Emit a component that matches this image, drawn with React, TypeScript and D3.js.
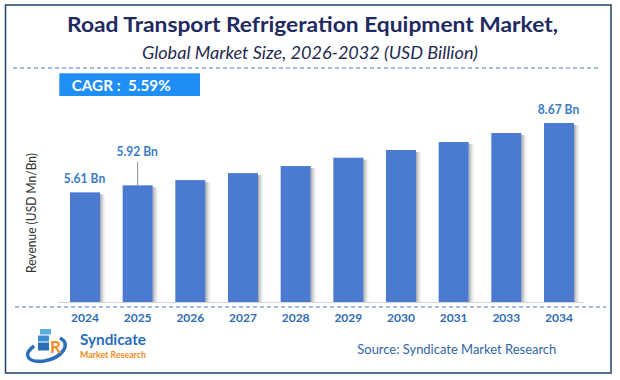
import React from "react";
import * as d3 from "d3";

const years = ["2024", "2025", "2026", "2027", "2028", "2029", "2030", "2031", "2033", "2034"];
const values = [5.61, 5.92, 6.15, 6.46, 6.77, 7.14, 7.48, 7.83, 8.23, 8.67];
const labeled = [
  { year: "2024", text: "5.61 Bn", leader: false },
  { year: "2025", text: "5.92 Bn", leader: true },
  { year: "2034", text: "8.67 Bn", leader: false },
];
const titleText = "Road Transport Refrigeration Equipment Market,";
const subtitleText = "Global Market Size, 2026-2032 (USD Billion)";
const cagrText = "CAGR :\u00a0 5.59%";
const yAxisTitle = "Revenue (USD Mn/Bn)";
const sourceText = "Source: Syndicate Market Research";

const W = 620;
const H = 380;
const FONT = "Lato, 'Open Sans', sans-serif";

export default function App() {
  const x = d3
    .scaleBand<string>()
    .domain(years)
    .range([58.4, 585.6])
    .paddingInner(0.43)
    .paddingOuter(0.22);
  const y = d3.scaleLinear().domain([0.77, 10]).range([302, 92.9]);
  const data = years.map((yr, i) => ({ yr, v: values[i] }));

  return (
    <svg
      width={W}
      height={H}
      style={{ position: "absolute", left: 0, top: 0, background: "#fff" }}
      fontFamily={FONT}
    >
      <defs>
        <linearGradient id="shadow" x1="0" x2="1" y1="0" y2="0">
          <stop offset="0" stopColor="#8a8a8a" stopOpacity="0.8" />
          <stop offset="1" stopColor="#ffffff" stopOpacity="0" />
        </linearGradient>
      </defs>
      <rect x={0} y={0} width={W} height={H} fill="#fff" />
      <rect x={5.5} y={5} width={605.5} height={368} fill="none" stroke="#2b4c74" strokeWidth={1.6} />

      {/* title */}
      <text
        x={312.5}
        y={32}
        textAnchor="middle"
        fontSize={21}
        fontWeight="bold"
        fill="#1f2a63"
        textLength={491}
        lengthAdjust="spacingAndGlyphs"
      >
        {titleText}
      </text>
      <text
        x={310}
        y={59}
        textAnchor="middle"
        fontSize={17.5}
        fontStyle="italic"
        fill="#1f2a50"
        textLength={336}
        lengthAdjust="spacingAndGlyphs"
      >
        {subtitleText}
      </text>
      <line x1={13} x2={600} y1={68} y2={68} stroke="#4a78c8" strokeWidth={1} strokeDasharray="4 3" />

      {/* CAGR box */}
      <rect x={59.3} y={73.3} width={140.7} height={22.7} fill="#1f8ef5" />
      <text x={71.7} y={90.5} fontSize={16} fontWeight="bold" fill="#fff" textLength={99} lengthAdjust="spacingAndGlyphs">
        {cagrText}
      </text>

      {/* y axis title */}
      <text
        transform={`translate(35.5,213) rotate(-90)`}
        textAnchor="middle"
        fontSize={12.5}
        fill="#333"
        textLength={120}
        lengthAdjust="spacingAndGlyphs"
      >
        {yAxisTitle}
      </text>

      {/* bars */}
      {data.map((d) => (
        <g key={d.yr}>
          <rect
            x={(x(d.yr) as number) + x.bandwidth()}
            y={y(d.v) + 2}
            width={7}
            height={y(0.77) - y(d.v) - 2}
            fill="url(#shadow)"
          />
          <rect
            x={x(d.yr)}
            y={y(d.v)}
            width={x.bandwidth()}
            height={y(0.77) - y(d.v)}
            fill="#4a7bd0"
          />
        </g>
      ))}

      {/* axis */}
      <line x1={58} x2={584} y1={302.5} y2={302.5} stroke="#d4d4d4" strokeWidth={1} />
      <line x1={15} x2={606} y1={307} y2={307} stroke="#4a78c8" strokeWidth={1} strokeDasharray="4 3" />
      {years.map((yr) => (
        <text
          key={yr}
          x={(x(yr) as number) + x.bandwidth() / 2}
          y={321.5}
          textAnchor="middle"
          fontSize={12}
          fontWeight="bold"
          fill="#2f6cb3"
        >
          {yr}
        </text>
      ))}

      {/* data labels */}
      {labeled.map((l) => {
        const i = years.indexOf(l.year);
        const cx = (x(l.year) as number) + x.bandwidth() / 2;
        const top = y(values[i]);
        const ly = l.leader ? top - 29.5 : top - 9.5;
        return (
          <g key={l.year}>
            {l.leader && (
              <line x1={cx} x2={cx} y1={top - 23.5} y2={top} stroke="#8c8c8c" strokeWidth={1} />
            )}
            <text
              x={cx - 0.5}
              y={ly}
              textAnchor="middle"
              fontSize={12.5}
              fontWeight="bold"
              fill="#3a7cc6"
              textLength={41.5}
              lengthAdjust="spacingAndGlyphs"
            >
              {l.text}
            </text>
          </g>
        );
      })}

      {/* logo */}
      <g>
        <path d="M 60 338 C 72 344, 62 358, 44 361 C 28 363, 22 355, 34 346" fill="none" stroke="#2a6ebb" strokeWidth={3.5} />
        <rect x={40} y={329} width={11} height={5.5} fill="#5aaee0" />
        <rect x={38} y={335.5} width={11} height={6} fill="#3f8fd0" />
        <rect x={38} y={342.5} width={11} height={8} fill="#2a6ebb" />
        <text x={50} y={353} fontSize={17} fontWeight="bold" fill="#f28a1e">R</text>
        <text x={80} y={345} fontSize={15} fontWeight="bold" fill="#2a6ebb" textLength={66} lengthAdjust="spacingAndGlyphs">Syndicate</text>
        <text x={80} y={357.5} fontSize={9.5} fontWeight="bold" fill="#f08a24" textLength={66} lengthAdjust="spacingAndGlyphs">Market Research</text>
      </g>

      <text x={357.3} y={354} fontSize={14} fill="#2f66a6" textLength={199} lengthAdjust="spacingAndGlyphs">
        {sourceText}
      </text>
    </svg>
  );
}
